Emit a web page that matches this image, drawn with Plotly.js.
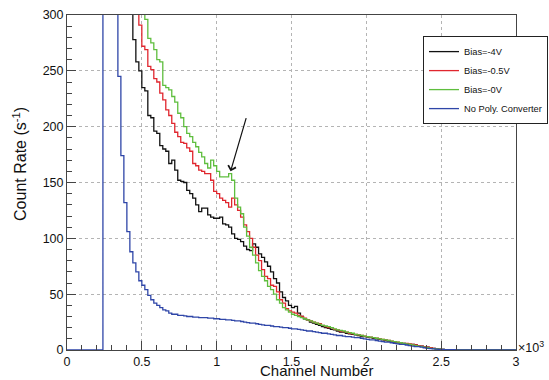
<!DOCTYPE html>
<html><head><meta charset="utf-8">
<script src="https://cdn.plot.ly/plotly-3.0.1.min.js"></script>
<style>html,body{margin:0;padding:0;background:#fff}#chart{width:549px;height:380px}</style>
</head><body><div id="chart"></div>
<script>
// Histogram bin width (channels) and first bin low edge of each series
const binWidth = 20;
const blueStart = 0;
const biasStart = 240;

const seriesNames = ['Bias=-4V', 'Bias=-0.5V', 'Bias=-0V', 'No Poly. Converter'];

// Count rate (s^-1) per 20-channel bin, Bias=-4V, starting at channel 240
const bias4V = [
  1000, 950, 900, 850, 800, 700, 600, 500, 400, 330,
  278, 258, 250, 235, 232, 210, 208, 196, 194, 183,
  180, 178, 167, 170, 161, 152, 151, 150, 143, 140,
  136, 130, 124, 127, 127, 121, 119, 118, 118, 119,
  113, 112, 110, 104, 100, 99, 97, 93, 90, 89,
  95, 92, 86, 83, 79, 75, 70, 64, 60, 52,
  47, 44, 40, 38, 39, 33, 30, 28, 27, 25,
  24, 23, 22, 21, 20, 19.5, 18.5, 18, 17, 16,
  16, 15, 14.5, 14, 13.5, 13, 12, 12, 11.5, 11,
  10.5, 10, 9.5, 9, 8.5, 8, 7.5, 7, 6.5, 6.5,
  6, 5.5, 5, 5, 4.5, 4, 3.5, 3, 2.5, 2,
  1.5, 1, 0.8, 0.5, 0.3, 0.2, 0.2, 0.2, 0.2, 0.2,
  0.2, 0.2, 0.2, 0.2, 0.2, 0.2, 0.2, 0.2, 0.2, 0.2,
  0.2, 0.2, 0.2, 0.2, 0.2, 0.2, 0.2, 0.2
];

// Bias=-0.5V, starting at channel 240
const bias05V = [
  1000, 950, 900, 850, 800, 750, 700, 600, 500, 420,
  360, 320, 291, 272, 269, 254, 251, 243, 240, 230,
  224, 215, 210, 203, 195, 191, 186, 185, 181, 178,
  167, 165, 161, 160, 158, 158, 152, 142, 140, 136,
  134, 132, 128, 136, 130, 125, 119, 112, 106, 100,
  92, 85, 80, 72, 66, 64, 58, 57, 52, 45,
  42, 37, 35, 34, 33, 31, 30, 28.5, 27, 26,
  25, 24, 23.5, 22, 21, 20, 20, 18.5, 18, 17,
  16.5, 16, 15, 14.5, 14, 13.5, 13, 12.5, 12, 11.5,
  11, 10.5, 10, 9.5, 9, 8.5, 8, 7.5, 7, 6.5,
  6, 6, 5.5, 5, 4.5, 4, 3.5, 3, 2.5, 2,
  1.5, 1, 0.8, 0.5, 0.3, 0.2, 0.2, 0.2, 0.2, 0.2,
  0.2, 0.2, 0.2, 0.2, 0.2, 0.2, 0.2, 0.2, 0.2, 0.2,
  0.2, 0.2, 0.2, 0.2, 0.2, 0.2, 0.2, 0.2
];

// Bias=-0V, starting at channel 240
const bias0V = [
  1000, 950, 900, 850, 800, 750, 700, 650, 600, 500,
  450, 400, 360, 320, 296, 279, 275, 269, 260, 258,
  237, 235, 233, 227, 222, 212, 208, 200, 194, 191,
  186, 182, 177, 173, 167, 163, 170, 165, 160, 155,
  155, 155, 158, 152, 136, 128, 122, 110, 102, 92,
  85, 78, 71, 66, 62, 57, 54, 50, 45, 42,
  38, 36, 34, 32, 31, 30, 29, 28, 27, 26,
  25, 24, 23, 22, 21.5, 21, 20, 19, 18, 17.5,
  17, 16, 15.5, 15, 14, 13.5, 13, 12.5, 12, 11.5,
  11, 10.5, 10, 9.5, 9, 8.5, 8, 7.5, 7, 6.5,
  6, 5.5, 5, 4.5, 4, 3.5, 3, 2.5, 2, 1.5,
  1.2, 1, 0.8, 0.5, 0.3, 0.2, 0.2, 0.2, 0.2, 0.2,
  0.2, 0.2, 0.2, 0.2, 0.2, 0.2, 0.2, 0.2, 0.2, 0.2,
  0.2, 0.2, 0.2, 0.2, 0.2, 0.2, 0.2, 0.2
];

// No Poly. Converter, starting at channel 0
const noPoly = [
  0, 0, 0, 0, 0, 0, 0, 0, 0, 0,
  0, 0,
  900, 800, 650, 520, 400, 245, 174, 132, 106, 88,
  78, 70, 62, 58, 54, 49, 45, 42, 40, 38,
  36, 35, 33, 32, 32, 31, 31, 30.5, 30, 30,
  29.5, 29.5, 29, 29, 29, 28.5, 28.5, 28, 28, 27.5,
  27.5, 27, 27, 26.5, 26, 26, 25.5, 25, 24.5, 24,
  24, 23.5, 23, 22.5, 22, 22, 21.5, 21, 21, 20.5,
  20, 20, 19.5, 19, 19, 18.5, 18, 17.5, 17, 17,
  16.5, 16, 15.5, 15, 15, 14.5, 14, 13.5, 13, 13,
  12.5, 12, 12, 11.5, 11, 11, 10.5, 10, 9.5, 9,
  9, 8.5, 8, 7.5, 7, 7, 6.5, 6, 5.5, 5,
  5, 4.5, 4, 3.5, 3, 3, 2.5, 2, 1.5, 1.2,
  1, 0.8, 0.6, 0.5, 0.4, 0.3, 0.3, 0.3, 0.2, 0.2,
  0.2, 0.2, 0.2, 0.2, 0.2, 0.2, 0.2, 0.2, 0.2, 0.2,
  0.2, 0.2, 0.2, 0.2, 0.2, 0.2, 0.2, 0.2
];

const xTickVals = [0, 500, 1000, 1500, 2000, 2500, 3000];
const xTickText = ['0', '0.5', '1', '1.5', '2', '2.5', '3'];
const yTickVals = [0, 50, 100, 150, 200, 250, 300];

// arrow marking the feature on the Bias=-0V curve (channel, rate)
const arrowTip = [1093, 160];
const arrowTail = [1200, 209];

function stepTrace(name, start, vals, color, group) {
  const x = [], y = [];
  vals.forEach((v, i) => { x.push(start + i * binWidth); y.push(v); });
  x.push(start + vals.length * binWidth); y.push(vals[vals.length - 1]);
  return {type: 'scatter', mode: 'lines', name, x, y, legendgroup: group,
          line: {shape: 'hv', color, width: 1.3}, hoverinfo: 'skip'};
}

const font = 'Liberation Sans, Arial, Helvetica, sans-serif';
const traces = [
  stepTrace(seriesNames[0], biasStart, bias4V, '#111111', 'a'),
  stepTrace(seriesNames[1], biasStart, bias05V, '#e0262e', 'b'),
  stepTrace(seriesNames[2], biasStart, bias0V, '#5fbe3e', 'c'),
  stepTrace(seriesNames[3], blueStart, noPoly, '#2f46a8', 'd')
];

const axisCommon = {
  showline: true, linecolor: '#444', linewidth: 1, mirror: true,
  ticks: 'inside', tickcolor: '#444', ticklen: 9, tickwidth: 1,
  showgrid: true, gridcolor: '#b4b4b4', griddash: 'dot', gridwidth: 1,
  zeroline: false, tickfont: {family: font, size: 12.5, color: '#111'},
  fixedrange: true, automargin: false
};

const layout = {
  width: 549, height: 380,
  margin: {l: 67, r: 33, t: 15, b: 30, autoexpand: false},
  paper_bgcolor: '#fff', plot_bgcolor: '#fff',
  showlegend: true,
  legend: {xref: 'container', yref: 'container', x: 0.7705, y: 0.905,
           xanchor: 'left', yanchor: 'top',
           bgcolor: '#fff', bordercolor: '#222', borderwidth: 1,
           font: {family: font, size: 9.3, color: '#111'},
           tracegroupgap: 2, traceorder: 'normal'},
  xaxis: Object.assign({}, axisCommon, {
    range: [0, 3000], tickmode: 'array', tickvals: xTickVals, ticktext: xTickText,
    minor: {ticks: 'inside', ticklen: 5, tickcolor: '#444', dtick: 100, showgrid: false}
  }),
  yaxis: Object.assign({}, axisCommon, {
    range: [0, 300], tickmode: 'array', tickvals: yTickVals,
    minor: {ticks: 'inside', ticklen: 5, tickcolor: '#444', dtick: 10, showgrid: false}
  }),
  annotations: [
    {xref: 'x', yref: 'y', axref: 'x', ayref: 'y', x: arrowTip[0], y: arrowTip[1],
     ax: arrowTail[0], ay: arrowTail[1], showarrow: true, arrowhead: 4,
     arrowsize: 1.3, arrowwidth: 1.2, arrowcolor: '#111', text: ''},
    {xref: 'paper', yref: 'paper', x: 1.0, y: 0.01, xanchor: 'left', yanchor: 'middle',
     showarrow: false, text: '×10<sup>3</sup>', font: {family: font, size: 12.5, color: '#111'}},
    {xref: 'paper', yref: 'paper', x: 0.555, y: -0.061, xanchor: 'center', yanchor: 'middle',
     showarrow: false, text: 'Channel Number', font: {family: font, size: 15, color: '#111'}},
    {xref: 'paper', yref: 'paper', x: -0.105, y: 0.555, xanchor: 'center', yanchor: 'middle',
     textangle: -90, showarrow: false, text: 'Count Rate (s<sup>-1</sup>)',
     font: {family: font, size: 16, color: '#111'}}
  ]
};

Plotly.newPlot('chart', traces, layout, {staticPlot: true, displayModeBar: false});
</script>
</body></html>
